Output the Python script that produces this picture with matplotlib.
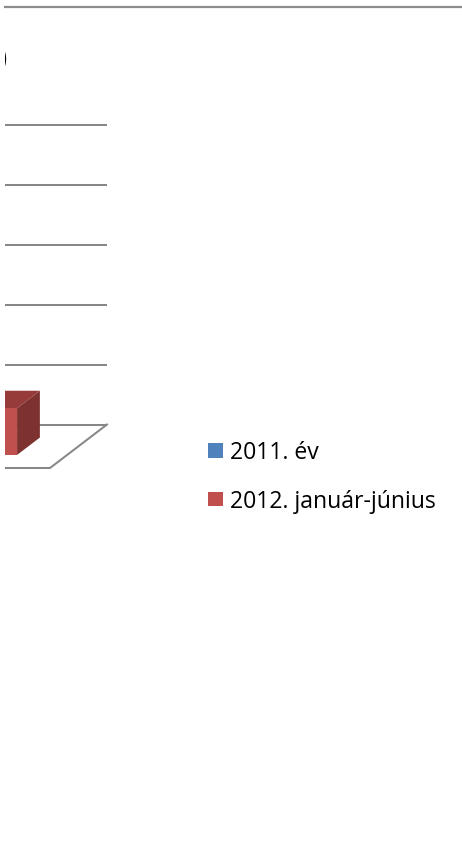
import matplotlib
matplotlib.use("Agg")
import matplotlib.pyplot as plt
from matplotlib.patches import Polygon, Rectangle
from matplotlib.lines import Line2D

# ---- data ----
categories = [""]
series_names = ["2011. év", "2012. január-június"]
series_colors = ["#4F81BD", "#C0504D"]
series_top_colors = ["#3C6494", "#963B39"]
series_side_colors = ["#325580", "#7D3230"]
values_2011 = [13.0]
values_2012 = [7.8]
series_values = [values_2011, values_2012]
value_ticks = [0, 10, 20, 30, 40, 50]
title_tail = ")"

# ---- layout ----
W, H, DPI = 462, 856, 100
fig = plt.figure(figsize=(W / DPI, H / DPI), dpi=DPI)
LEFT = 5
ax = fig.add_axes([LEFT / W, 0, (W - LEFT) / W, 1])
ax.set_axis_off()

PX_X = 233.4          # px per category unit
CAT0_PX = -9.7        # pixel of category 0 centre (back wall)
PX_Y = 6.0            # px per value unit
FLOOR_PX = 424.5      # pixel row of value 0 on back wall
ax.set_xlim((LEFT - CAT0_PX) / PX_X, (W - CAT0_PX) / PX_X)
ax.set_ylim(-(H - FLOOR_PX) / PX_Y, FLOOR_PX / PX_Y)

DEPTH_DX, DEPTH_DY = 57, 43.5


def proj(x, v, d):
    return (x - d * DEPTH_DX / PX_X, v - d * DEPTH_DY / PX_Y)


GRID = "#878787"
LW = 1.45
wall_l, wall_r = -0.5, len(categories) - 0.5

# back wall gridlines
for t in value_ticks[1:]:
    ax.add_line(Line2D([wall_l, wall_r], [t, t], color=GRID, lw=LW,
                       solid_capstyle="butt", zorder=1))
# floor
p_bl, p_br = proj(wall_l, 0, 0), proj(wall_r, 0, 0)
p_fl, p_fr = proj(wall_l, 0, 1), proj(wall_r, 0, 1)
ax.add_line(Line2D([p_bl[0], p_br[0]], [p_bl[1], p_br[1]], color=GRID, lw=LW,
                   solid_capstyle="butt", zorder=1))
ax.add_line(Line2D([p_br[0], p_fr[0], p_fl[0]], [p_br[1], p_fr[1], p_fl[1]],
                   color=GRID, lw=LW, solid_joinstyle="miter", zorder=1))

# bars (clustered, gap width 150%)
n = len(series_values)
bw = 1.0 / (n + 1.5)
d0, d1 = 0.3, 0.7
for ci in range(len(categories)):
    for si in range(n):
        v = series_values[si][ci]
        x0 = ci - n * bw / 2 + si * bw
        x1 = x0 + bw
        front = [proj(x0, 0, d1), proj(x1, 0, d1), proj(x1, v, d1), proj(x0, v, d1)]
        top = [proj(x0, v, d1), proj(x1, v, d1), proj(x1, v, d0), proj(x0, v, d0)]
        side = [proj(x1, 0, d1), proj(x1, 0, d0), proj(x1, v, d0), proj(x1, v, d1)]
        ax.add_patch(Polygon(side, closed=True, fc=series_side_colors[si], ec="none", zorder=3))
        ax.add_patch(Polygon(top, closed=True, fc=series_top_colors[si], ec="none", zorder=3))
        ax.add_patch(Polygon(front, closed=True, fc=series_colors[si], ec="none", zorder=3))

# cropped title tail (the chart is cut at the left edge)
ax.text(wall_l + (LEFT + 3.0 - (CAT0_PX + wall_l * PX_X)) / PX_X, (FLOOR_PX - 60) / PX_Y,
        title_tail, fontsize=24, ha="right", va="center", color="black",
        family="DejaVu Sans", clip_on=True)

# top border line
fig.add_artist(Line2D([LEFT / W, 1], [1 - 7 / H, 1 - 7 / H], color="#8C8C8C", lw=1.6,
                      transform=fig.transFigure))

# legend
leg_x, sq = 208, 14.5
leg_rows = [443, 492]
for i, name in enumerate(series_names):
    ytop = leg_rows[i]
    fig.add_artist(Rectangle((leg_x / W, 1 - (ytop + sq) / H), sq / W, sq / H,
                             transform=fig.transFigure, fc=series_colors[i], ec="none"))
    fig.text(230 / W, 1 - (ytop + 16) / H, name, fontsize=16.6, family="Open Sans",
             ha="left", va="baseline", color="black")

fig.savefig("out.png", dpi=DPI)
